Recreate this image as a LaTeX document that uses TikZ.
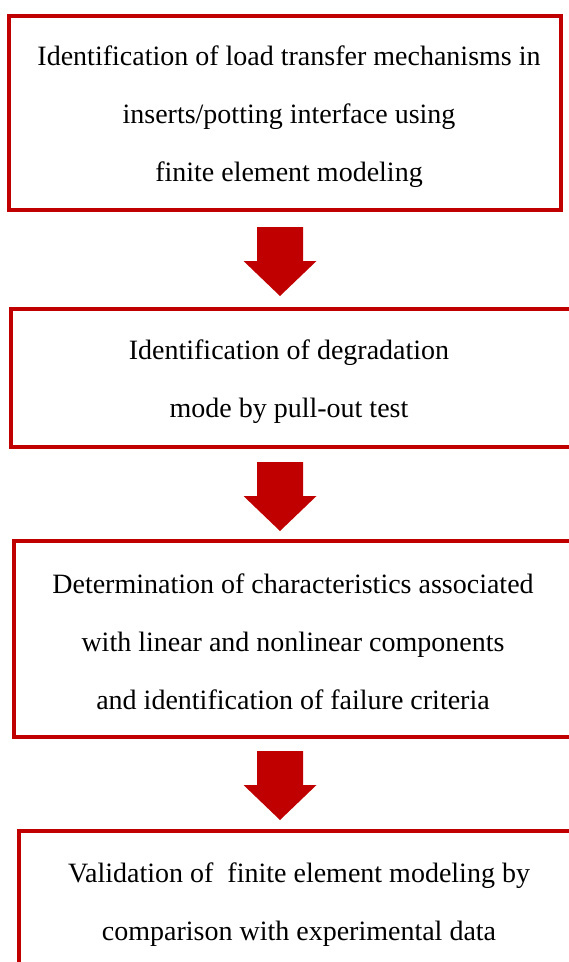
\documentclass[tikz,border=0pt]{standalone}
\usepackage{fontspec}
\setmainfont{Liberation Serif}
\definecolor{boxred}{HTML}{C00000}
\tikzset{
  redbox/.style={draw=boxred, line width=4pt, rectangle, inner sep=0pt},
  boxtext/.style={align=center, inner sep=0pt, text=black, font=\fontsize{28}{58}\selectfont},
  blockdown/.pic={\fill[boxred] (-23,0) -- (23,0) -- (23,34) -- (36.5,34) -- (0,69) -- (-36.5,34) -- (-23,34) -- cycle;}
}
\begin{document}
\begin{tikzpicture}[x=1pt, y=-1pt]
\useasboundingbox (0,0) rectangle (569,962);
\clip (0,0) rectangle (569,962);
% boxes
\node[redbox, minimum width=552pt, minimum height=194pt] (b1) at (285,113) {};
\node[redbox, minimum width=579pt, minimum height=138pt] (b2) at (300.5,377.5) {};
\node[redbox, minimum width=576pt, minimum height=196.5pt] (b3) at (302,639) {};
\node[redbox, minimum width=571pt, minimum height=318pt] (b4) at (304.5,990) {};
% texts
\node[boxtext] (t1) at (289,117) {Identification of load transfer mechanisms in\\inserts/potting interface using\\finite element modeling};
\node[boxtext] (t2) at (289,382) {Identification of degradation\\mode by pull-out test};
\node[boxtext] (t3) at (293,642) {Determination of characteristics associated\\with linear and nonlinear components\\and identification of failure criteria};
\node[boxtext] (t4) at (299,905) {Validation of \ finite element modeling by\\comparison with experimental data};
% arrows
\coordinate (a1) at (280,227);
\coordinate (a2) at (280,462);
\coordinate (a3) at (280,751);
\pic at (a1) {blockdown};
\pic at (a2) {blockdown};
\pic at (a3) {blockdown};
\end{tikzpicture}
\end{document}
